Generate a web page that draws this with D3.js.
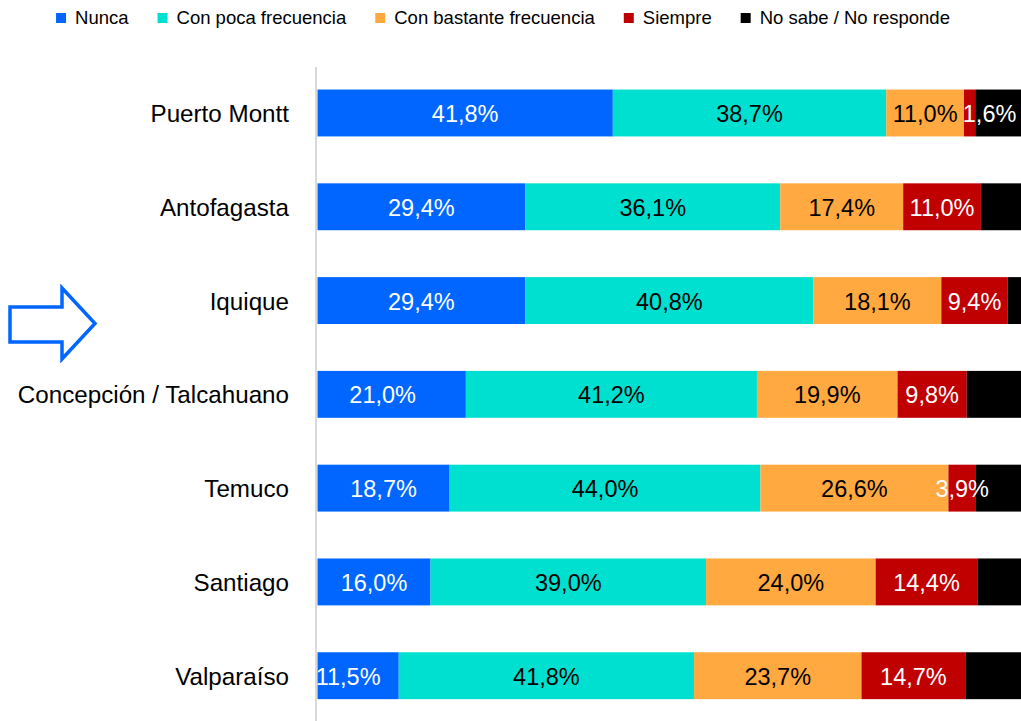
<!DOCTYPE html>
<html>
<head>
<meta charset="utf-8">
<script src="https://cdn.jsdelivr.net/npm/d3@7"></script>
<style>
  body { margin: 0; background: #fff; }
  svg { display: block; font-family: "Liberation Sans", Arial, sans-serif; }
</style>
</head>
<body>
<svg id="chart" width="1021" height="721"></svg>
<script>
// data
const cities = ["Puerto Montt", "Antofagasta", "Iquique", "Concepción / Talcahuano", "Temuco", "Santiago", "Valparaíso"];
const seriesNames = ["Nunca", "Con poca frecuencia", "Con bastante frecuencia", "Siempre", "No sabe / No responde"];
const nunca = [41.8, 29.4, 29.4, 21.0, 18.7, 16.0, 11.5];
const pocaFrecuencia = [38.7, 36.1, 40.8, 41.2, 44.0, 39.0, 41.8];
const bastanteFrecuencia = [11.0, 17.4, 18.1, 19.9, 26.6, 24.0, 23.7];
const siempre = [1.6, 11.0, 9.4, 9.8, 3.9, 14.4, 14.7];
const noSabe = [6.9, 6.1, 2.3, 8.1, 6.8, 6.6, 8.3];

const colors = ["#0066ff", "#00e0d0", "#ffa940", "#c00000", "#000000"];
const labelColors = ["#fff", "#000", "#000", "#fff", null];
// small hand nudges where the original labels are not centred
const nudge = { "Puerto Montt|Siempre": 20, "Valparaíso|Nunca": -10, "Concepción / Talcahuano|Nunca": -9 };

const allSeries = [nunca, pocaFrecuencia, bastanteFrecuencia, siempre, noSabe];
const table = cities.map((c, i) => {
  const row = { city: c };
  seriesNames.forEach((s, j) => { row[s] = allSeries[j][i]; });
  return row;
});

const svg = d3.select("#chart");

const x = d3.scaleLinear().domain([0, 100]).range([317.5, 1024]);
const y = d3.scaleBand().domain(cities).range([66.1, 722.6]).paddingInner(0.5).paddingOuter(0.25);

const stacked = d3.stack().keys(seriesNames)(table);

const layers = svg.append("g").selectAll("g")
  .data(stacked)
  .join("g")
  .attr("fill", (d, i) => colors[i]);

layers.selectAll("rect")
  .data(d => d)
  .join("rect")
  .attr("x", d => x(d[0]))
  .attr("y", d => y(d.data.city))
  .attr("width", d => x(d[1]) - x(d[0]))
  .attr("height", y.bandwidth());

// value labels
stacked.forEach((layer, i) => {
  if (!labelColors[i]) return;
  svg.append("g")
    .selectAll("text")
    .data(layer)
    .join("text")
    .attr("x", d => (x(d[0]) + x(d[1])) / 2 + (nudge[d.data.city + "|" + layer.key] || 0))
    .attr("y", d => y(d.data.city) + y.bandwidth() / 2 + 9)
    .attr("text-anchor", "middle")
    .attr("font-size", 23.5)
    .attr("fill", labelColors[i])
    .text(d => (d[1] - d[0]).toFixed(1).replace(".", ",") + "%");
});

// axis line
svg.append("line")
  .attr("x1", 316).attr("x2", 316)
  .attr("y1", 67).attr("y2", 721)
  .attr("stroke", "#d9d9d9")
  .attr("stroke-width", 2);

// category labels
svg.append("g")
  .selectAll("text")
  .data(cities)
  .join("text")
  .attr("x", 289)
  .attr("y", d => y(d) + y.bandwidth() / 2 + 9)
  .attr("text-anchor", "end")
  .attr("font-size", 24.2)
  .attr("fill", "#000")
  .text(d => d);

// legend
const legend = svg.append("g");
let lx = 0;
seriesNames.forEach((name, i) => {
  const item = legend.append("g").attr("transform", `translate(${lx},0)`);
  item.append("rect")
    .attr("x", 0).attr("y", 13)
    .attr("width", 10).attr("height", 10)
    .attr("fill", colors[i]);
  const t = item.append("text")
    .attr("x", 19).attr("y", 24)
    .attr("font-size", 18.5)
    .attr("fill", "#000")
    .text(name);
  lx += 19 + t.node().getComputedTextLength() + 29;
});
const legendWidth = lx - 29;
legend.attr("transform", `translate(${503 - legendWidth / 2},0)`);

// arrow pointing at Iquique
svg.append("path")
  .attr("d", "M10,307 L62,307 L62,288 L95,323.5 L62,359 L62,342 L10,342 Z")
  .attr("fill", "#fff")
  .attr("stroke", "#0066ff")
  .attr("stroke-width", 3.5);
</script>
</body>
</html>
